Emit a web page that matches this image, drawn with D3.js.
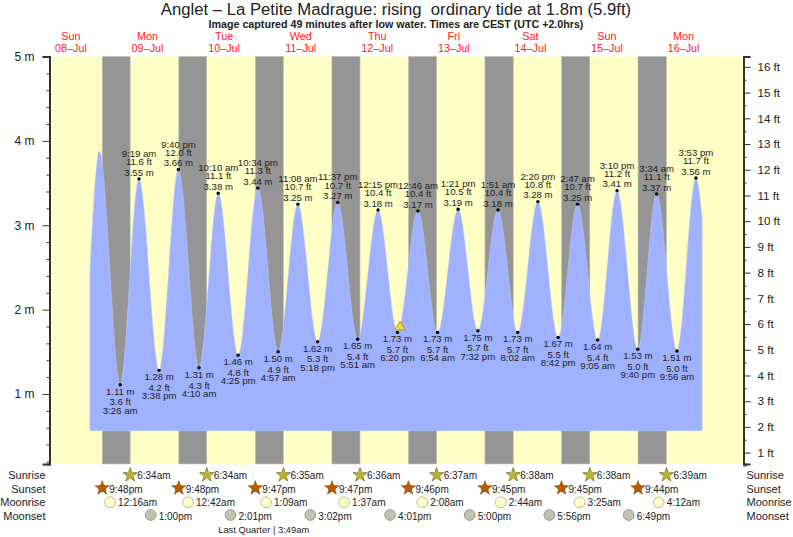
<!DOCTYPE html>
<html>
<head>
<meta charset="utf-8">
<title>Anglet tide chart</title>
<script src="https://cdn.jsdelivr.net/npm/d3@7"></script>
<style>
  html, body { margin: 0; background: #fff; }
  svg { display: block; }
  text { font-family: "Liberation Sans", Arial, sans-serif; }
</style>
</head>
<body>
<script>
// values. Times are local (CEST)
const titleText = "Anglet \u2013 La Petite Madrague: rising\u00a0\u00a0ordinary tide at 1.8m (5.9ft)";
const subtitleText = "Image captured 49 minutes after low water. Times are CEST (UTC +2.0hrs)";
const moonPhaseText = "Last Quarter | 3:49am";

const dayLabels = ["Sun", "Mon", "Tue", "Wed", "Thu", "Fri", "Sat", "Sun", "Mon"];
const dayDates = ["08\u2013Jul", "09\u2013Jul", "10\u2013Jul", "11\u2013Jul", "12\u2013Jul", "13\u2013Jul", "14\u2013Jul", "15\u2013Jul", "16\u2013Jul"];
const dayNoons = ["2018-07-08 12:00", "2018-07-09 12:00", "2018-07-10 12:00", "2018-07-11 12:00", "2018-07-12 12:00",
  "2018-07-13 12:00", "2018-07-14 12:00", "2018-07-15 12:00", "2018-07-16 12:00"];

const timeDomain = ["2018-07-08 05:26", "2018-07-17 06:38"];
const metreDomain = [0.17, 5];
const tideBase = 0.565;
const metreTicks = [1, 2, 3, 4, 5];
const metreMinor = [0.2, 0.4, 0.6, 0.8, 1.2, 1.4, 1.6, 1.8, 2.2, 2.4, 2.6, 2.8, 3.2, 3.4, 3.6, 3.8, 4.2, 4.4, 4.6, 4.8];
const feetTicks = [1, 2, 3, 4, 5, 6, 7, 8, 9, 10, 11, 12, 13, 14, 15, 16];
const feetMinor = [0.5, 1.5, 2.5, 3.5, 4.5, 5.5, 6.5, 7.5, 8.5, 9.5, 10.5, 11.5, 12.5, 13.5, 14.5, 15.5];

// first and last entries are where the water polygon is cut, second is the unlabelled first high
const tideTimes = ["2018-07-08 17:57", "2018-07-08 20:55", "2018-07-09 03:26", "2018-07-09 09:19", "2018-07-09 15:38",
  "2018-07-09 21:40", "2018-07-10 04:10", "2018-07-10 10:10", "2018-07-10 16:25", "2018-07-10 22:34",
  "2018-07-11 04:57", "2018-07-11 11:08", "2018-07-11 17:18", "2018-07-11 23:37", "2018-07-12 05:51",
  "2018-07-12 12:15", "2018-07-12 18:20", "2018-07-13 00:46", "2018-07-13 06:54", "2018-07-13 13:21",
  "2018-07-13 19:32", "2018-07-14 01:51", "2018-07-14 08:02", "2018-07-14 14:20", "2018-07-14 20:42",
  "2018-07-15 02:47", "2018-07-15 09:05", "2018-07-15 15:10", "2018-07-15 21:40", "2018-07-16 03:34",
  "2018-07-16 09:56", "2018-07-16 15:53", "2018-07-16 17:50"];
const tideMetres = [2.47, 3.88, 1.11, 3.55, 1.28, 3.66, 1.31, 3.38, 1.46, 3.44, 1.50, 3.25, 1.62, 3.27, 1.65, 3.18, 1.73,
  3.17, 1.73, 3.19, 1.75, 3.18, 1.73, 3.28, 1.67, 3.25, 1.64, 3.41, 1.53, 3.37, 1.51, 3.56, 3.10];
const tideFeet = [null, null, 3.6, 11.6, 4.2, 12.0, 4.3, 11.1, 4.8, 11.3, 4.9, 10.7, 5.3, 10.7, 5.4, 10.4, 5.7,
  10.4, 5.7, 10.5, 5.7, 10.4, 5.7, 10.8, 5.5, 10.7, 5.4, 11.2, 5.0, 11.1, 5.0, 11.7, null];

const nowTime = "2018-07-12 19:09";
const nowMetres = 1.8;

const sunrises = ["2018-07-09 06:34", "2018-07-10 06:34", "2018-07-11 06:35", "2018-07-12 06:36",
  "2018-07-13 06:37", "2018-07-14 06:38", "2018-07-15 06:38", "2018-07-16 06:39"];
const sunsets = ["2018-07-08 21:48", "2018-07-09 21:48", "2018-07-10 21:47", "2018-07-11 21:47",
  "2018-07-12 21:46", "2018-07-13 21:45", "2018-07-14 21:45", "2018-07-15 21:44"];
const moonrises = ["2018-07-09 00:16", "2018-07-10 00:42", "2018-07-11 01:09", "2018-07-12 01:37",
  "2018-07-13 02:08", "2018-07-14 02:44", "2018-07-15 03:25", "2018-07-16 04:12"];
const moonsets = ["2018-07-09 13:00", "2018-07-10 14:01", "2018-07-11 15:02", "2018-07-12 16:01",
  "2018-07-13 17:00", "2018-07-14 17:56", "2018-07-15 18:49"];
const moonPhaseTime = "2018-07-11 00:25";

const rowNames = ["Sunrise", "Sunset", "Moonrise", "Moonset"];

const width = 793, height = 537;
const plotLeft = 50, plotRight = 743, plotTop = 56.5, plotBottom = 464;

const parse = d3.timeParse("%Y-%m-%d %H:%M");
const clock = d3.timeFormat("%-I:%M");
const ampm = (d) => (d.getHours() < 12 ? "am" : "pm");

const x = d3.scaleTime().domain(timeDomain.map(parse)).range([plotLeft, plotRight]);
const yM = d3.scaleLinear().domain(metreDomain).range([plotBottom, plotTop]);
const yF = d3.scaleLinear().domain(metreDomain.map((m) => m / 0.3048)).range([plotBottom, plotTop]);

const svg = d3.select("body").append("svg")
  .attr("width", width)
  .attr("height", height);

// background + nights
svg.append("rect")
  .attr("x", plotLeft)
  .attr("y", plotTop)
  .attr("width", plotRight - plotLeft)
  .attr("height", plotBottom - plotTop)
  .attr("fill", "#ffffc6");

svg.append("g").selectAll("rect")
  .data(sunsets)
  .join("rect")
  .attr("x", (d) => x(parse(d)))
  .attr("y", plotTop)
  .attr("width", (d, i) => x(parse(sunrises[i])) - x(parse(d)))
  .attr("height", plotBottom - plotTop)
  .attr("fill", "#959595")
  .attr("stroke", "#c4c4b4")
  .attr("stroke-width", 0.6);

// water
const tide = tideTimes.map((t, i) => ({
  time: parse(t),
  metres: tideMetres[i],
  feet: tideFeet[i],
}));

const area = d3.area()
  .x((d) => x(d.time))
  .y0(yM(tideBase))
  .y1((d) => yM(d.metres))
  .curve(d3.curveMonotoneX);

svg.append("path")
  .datum(tide)
  .attr("d", area)
  .attr("fill", "#a0b2ff")
  .attr("stroke", "#bcc8f4")
  .attr("stroke-width", 0.5);

// high and low water labels
const labelled = tide.filter((d) => d.feet !== null);
const isLow = (d) => d.metres < 2.5;

svg.append("g").selectAll("circle")
  .data(labelled)
  .join("circle")
  .attr("cx", (d) => x(d.time))
  .attr("cy", (d) => yM(d.metres))
  .attr("r", 1.7)
  .attr("fill", "#000");

const labels = svg.append("g")
  .attr("font-size", 9.6)
  .attr("fill", "#222")
  .attr("text-anchor", "middle")
  .selectAll("g")
  .data(labelled)
  .join("g")
  .attr("transform", (d) => `translate(${x(d.time)},${yM(d.metres)})`);

labels.append("text")
  .attr("y", (d) => (isLow(d) ? 10 : -3.2))
  .text((d) => `${d.metres.toFixed(2)} m`);
labels.append("text")
  .attr("y", (d) => (isLow(d) ? 20.8 : -13.8))
  .text((d) => `${d.feet.toFixed(1)} ft`);
labels.append("text")
  .attr("y", (d) => (isLow(d) ? 29 : -22))
  .text((d) => `${clock(d.time)} ${ampm(d.time)}`);

// current level marker
svg.append("path")
  .attr("transform", `translate(${x(parse(nowTime))},${yM(nowMetres) + 0.5})`)
  .attr("d", d3.symbol(d3.symbolTriangle, 46)())
  .attr("fill", "#ecd93a")
  .attr("stroke", "#8a8420")
  .attr("stroke-width", 0.7);

// axes
function styleAxis(g) {
  g.attr("font-size", null).attr("font-family", null);
  g.selectAll("path.domain").attr("stroke", "#333").attr("stroke-width", 2);
  g.selectAll("line").attr("stroke", "#333");
  g.selectAll("text").attr("fill", "#222");
}

svg.append("g")
  .attr("transform", `translate(${plotLeft - 0.5},0)`)
  .call(d3.axisLeft(yM).tickValues(metreTicks).tickFormat((d) => `${d} m`).tickSize(7).tickPadding(8))
  .call(styleAxis)
  .attr("font-size", 12);
svg.append("g")
  .attr("transform", `translate(${plotLeft - 0.5},0)`)
  .call(d3.axisLeft(yM).tickValues(metreMinor).tickFormat("").tickSize(3))
  .call(styleAxis);

svg.append("g")
  .attr("transform", `translate(${plotRight + 0.5},0)`)
  .call(d3.axisRight(yF).tickValues(feetTicks).tickFormat((d) => `${d} ft`).tickSize(7).tickPadding(7))
  .call(styleAxis)
  .attr("font-size", 11.6);
svg.append("g")
  .attr("transform", `translate(${plotRight + 0.5},0)`)
  .call(d3.axisRight(yF).tickValues(feetMinor).tickFormat("").tickSize(3))
  .call(styleAxis);

// titles
svg.append("text")
  .attr("x", 396)
  .attr("y", 14.5)
  .attr("text-anchor", "middle")
  .attr("font-size", 16.7)
  .attr("fill", "#222")
  .text(titleText);
svg.append("text")
  .attr("x", 396)
  .attr("y", 28)
  .attr("text-anchor", "middle")
  .attr("font-size", 10.7)
  .attr("font-weight", "bold")
  .attr("fill", "#222")
  .text(subtitleText);

const dayHeads = svg.append("g")
  .attr("font-size", 10.8)
  .attr("fill", "#ff2020")
  .attr("text-anchor", "middle")
  .selectAll("g")
  .data(dayNoons)
  .join("g")
  .attr("transform", (d) => `translate(${x(parse(d))},0)`);
dayHeads.append("text").attr("y", 40).text((d, i) => dayLabels[i]);
dayHeads.append("text").attr("y", 52).text((d, i) => dayDates[i]);

// sun and moon rows
const rowY = d3.scalePoint().domain(rowNames).range([475, 516]);
const starPath = d3.symbol(d3.symbolStar, 62)();

const rowStyles = [
  { name: "Sunrise", times: sunrises, fill: "#b9b13c", stroke: "#77722c", star: true, dy: -1 },
  { name: "Sunset", times: sunsets, fill: "#b85a00", stroke: "#8c5a20", star: true, dy: -1.5 },
  { name: "Moonrise", times: moonrises, fill: "#ffffc6", stroke: "#a8a890", star: false, dy: 0 },
  { name: "Moonset", times: moonsets, fill: "#c2c2ae", stroke: "#8c8c80", star: false, dy: -1 },
];

for (const row of rowStyles) {
  const marks = svg.append("g")
    .selectAll("g")
    .data(row.times)
    .join("g")
    .attr("transform", (d) => `translate(${x(parse(d))},${rowY(row.name)})`);
  if (row.star) {
    marks.append("path")
      .attr("d", starPath)
      .attr("transform", `translate(0,${row.dy + 1})`)
      .attr("fill", row.fill)
      .attr("stroke", row.stroke)
      .attr("stroke-width", 0.8);
    marks.append("circle").attr("cy", row.dy + 1).attr("r", 3.8).attr("fill", row.fill);
  } else {
    marks.append("circle")
      .attr("cy", row.dy)
      .attr("r", 5.4)
      .attr("fill", row.fill)
      .attr("stroke", row.stroke)
      .attr("stroke-width", 0.8);
  }
  marks.append("text")
    .attr("x", row.star ? 7 : 8)
    .attr("y", 4)
    .attr("font-size", 10)
    .attr("fill", "#222")
    .text((d) => clock(parse(d)) + ampm(parse(d)));
}

svg.append("g")
  .attr("font-size", 11)
  .attr("fill", "#222")
  .selectAll("text")
  .data(rowNames.flatMap((n) => [[n, 45.5, "end"], [n, 746.5, "start"]]))
  .join("text")
  .attr("x", (d) => d[1])
  .attr("y", (d) => rowY(d[0]) + 4)
  .attr("text-anchor", (d) => d[2])
  .text((d) => d[0]);

svg.append("text")
  .attr("x", x(parse(moonPhaseTime)))
  .attr("y", 533)
  .attr("text-anchor", "middle")
  .attr("font-size", 9.4)
  .attr("fill", "#222")
  .text(moonPhaseText);
</script>
</body>
</html>
